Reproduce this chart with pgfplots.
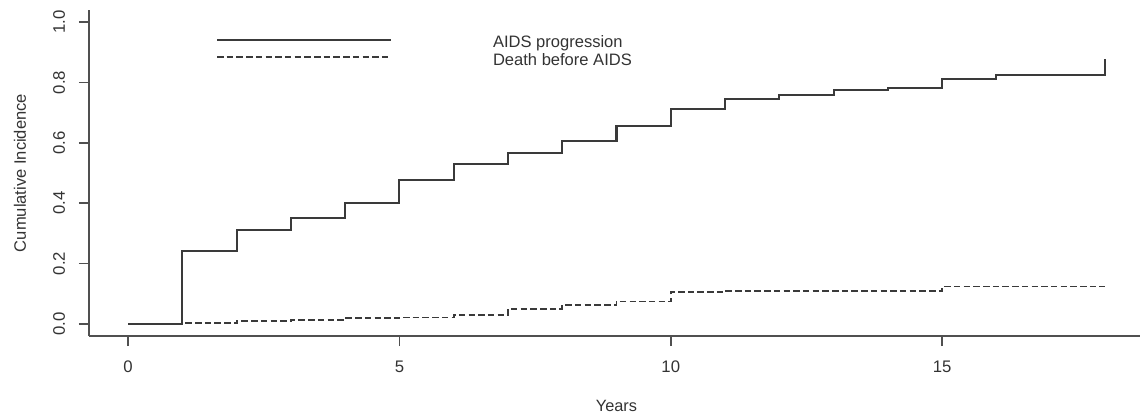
\documentclass[border=0pt]{standalone}
\usepackage{pgfplots}
\pgfplotsset{compat=1.18}
\usepackage{fontspec}
\setmainfont{Liberation Sans}
\definecolor{ink}{HTML}{3A3A3A}
\definecolor{axisc}{HTML}{505050}
\definecolor{txt}{HTML}{333333}
\begin{document}
\begin{tikzpicture}
\path[use as bounding box] (0bp,0bp) rectangle (1140bp,418bp);
\begin{axis}[
  at={(89bp,82bp)}, anchor=south west,
  scale only axis, width=1055bp, height=326bp,
  xmin=-0.72, xmax=18.72, ymin=-0.04, ymax=1.04,
  axis lines=left, axis line style={-, axisc, line width=1.7bp},
  tick align=outside, major tick length=10bp,
  tick style={axisc, line width=1.7bp},
  xtick={0,5,10,15}, ytick={0,0.2,0.4,0.6,0.8,1.0},
  /pgf/number format/assume math mode=true,
  yticklabel style={/pgf/number format/fixed, /pgf/number format/fixed zerofill, /pgf/number format/precision=1, rotate=90, anchor=base},
  every tick label/.append style={font=\fontsize{16.8}{20}\selectfont, text=txt},
  xticklabel style={anchor=base},
  xticklabel shift=26bp,
  yticklabel shift=14bp,
  every axis y label/.style={at={(axis description cs:-0.0654,0.5)}, rotate=90, anchor=center, font=\fontsize{16.6}{20}\selectfont, text=txt},
  every axis x label/.style={at={(axis description cs:0.5,-0.2316)}, anchor=base, font=\fontsize{16.4}{20}\selectfont, text=txt},
  ylabel={Cumulative Incidence},
  xlabel={Years},
  legend style={at={(axis description cs:0.12038,0.9218)}, anchor=north west, draw=none, fill=none,
    inner sep=0pt, outer sep=0pt, row sep=0pt,
    nodes={inner sep=0pt, outer sep=0pt, text height=12.5bp, text depth=4.8bp, font=\fontsize{16.6}{20}\selectfont, text=txt}},
  legend cell align=left,
  legend image code/.code={\draw[#1] (0bp,4.5bp) -- (174bp,4.5bp); \path[draw=none,fill=none] (0bp,4.5bp) -- (276bp,4.5bp);},
]
\addplot[const plot, ink, line width=2.1bp] coordinates {
 (0,0) (1,0.242) (2,0.312) (3,0.351) (4,0.402) (5,0.478) (6,0.531) (7,0.567)
 (8,0.606) (9,0.656) (10,0.711) (11,0.744) (12,0.757) (13,0.776) (14,0.782)
 (15,0.811) (16,0.825) (18,0.878)
};
\addlegendentry{AIDS progression}
\addplot[const plot, ink, line width=1.8bp, dash pattern=on 6.5bp off 3.2bp] coordinates {
 (0,0) (1,0.003) (2,0.010) (3,0.014) (4,0.019) (5,0.021) (6,0.029) (7,0.049)
 (8,0.062) (9,0.074) (10,0.106) (11,0.110) (15,0.124) (18,0.124)
};
\addlegendentry{Death before AIDS}
\end{axis}
\end{tikzpicture}
\end{document}
